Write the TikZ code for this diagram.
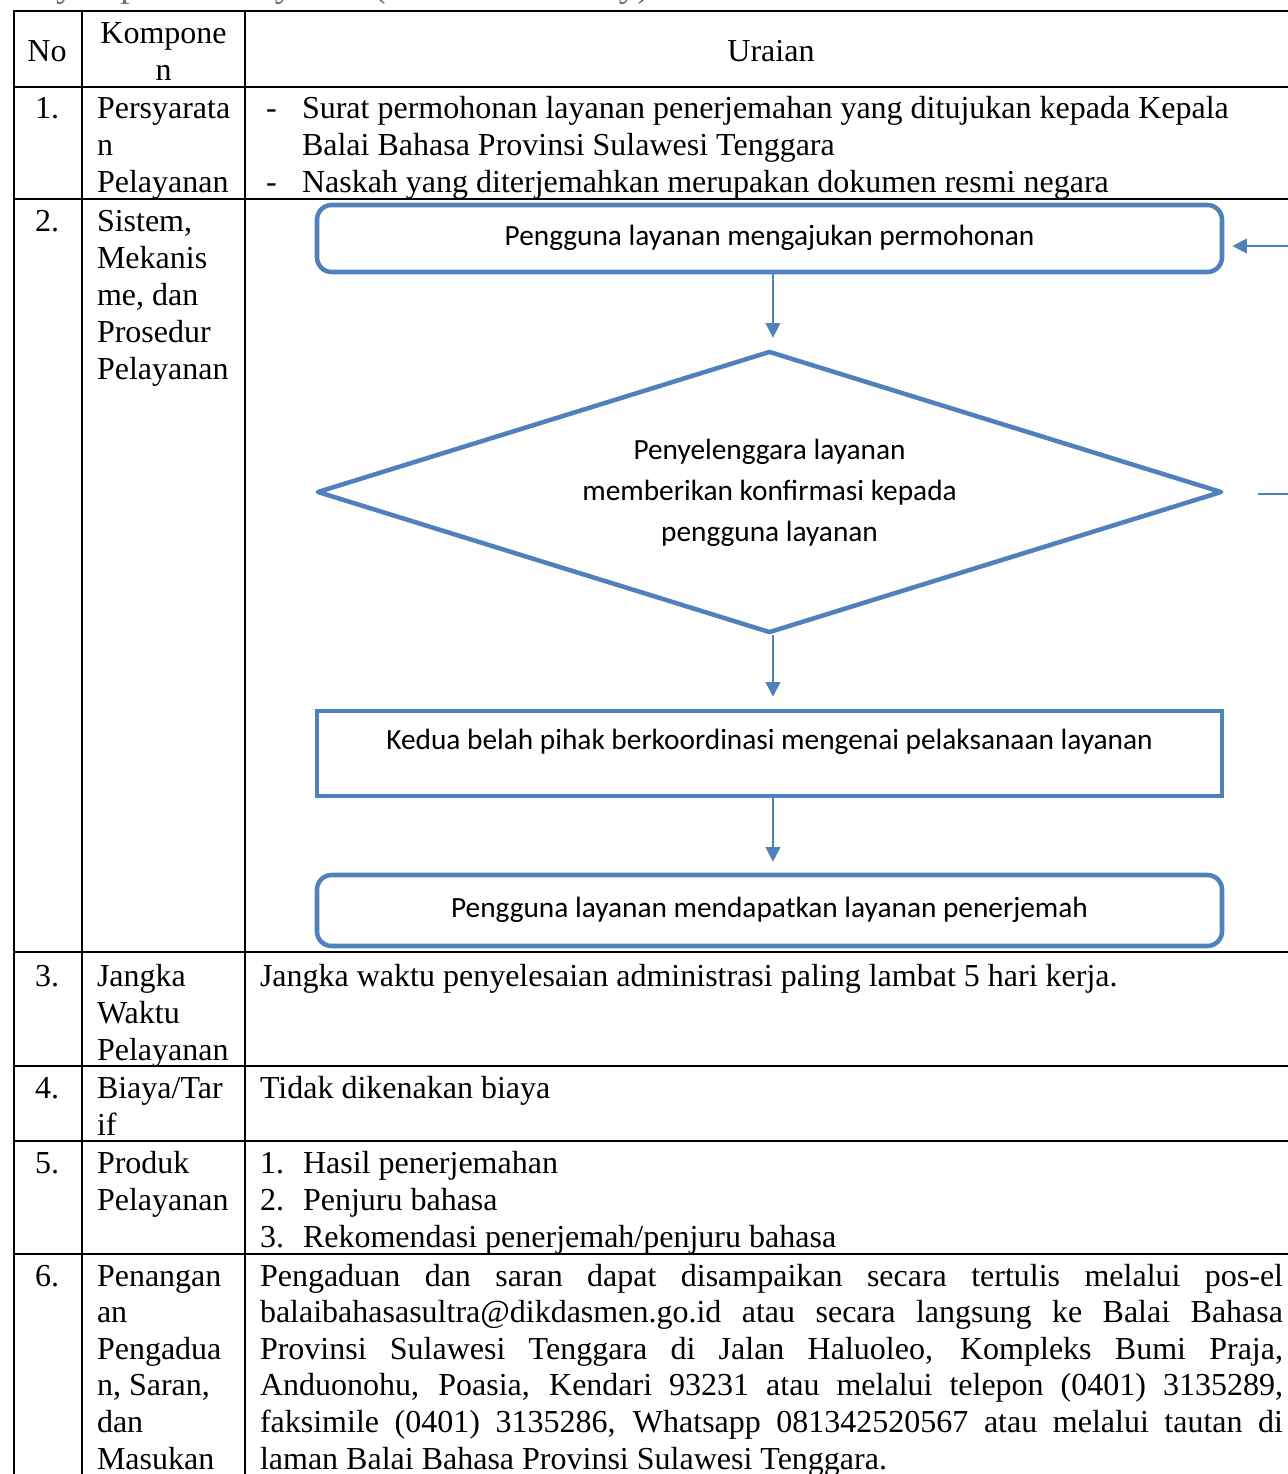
\documentclass[tikz,border=0pt]{standalone}
\usepackage{fontspec}
\setmainfont{Liberation Serif}
\newfontfamily\calibfont{Carlito}
\usetikzlibrary{shapes.geometric,arrows.meta}
\definecolor{flowblue}{RGB}{79,129,189}
\definecolor{capgray}{RGB}{110,110,110}
\newcommand\ctrline[1]{\hbox to 0pt{\hss #1\hss}}
\newcommand\cellstack[2][27.75pt]{\vtop{\baselineskip=#1\lineskiplimit=-20pt\lineskip=0pt #2}}
\newcommand\jline[1]{\hbox to 767.25pt{#1}}
\begin{document}
\begin{tikzpicture}[x=0.75pt,y=-0.75pt,
  tline/.style={line width=1.5pt,black,line cap=rect},
  txt/.style={anchor=base west,inner sep=0pt,outer sep=0pt,font=\fontsize{24}{27.75}\selectfont},
  txtc/.style={txt,anchor=base},
  procbox/.style={draw=flowblue,line width=3.4pt,minimum width=678.75pt,inner sep=0pt,text height=16pt,text depth=6pt,font=\calibfont\fontsize{22}{30.75}\selectfont},
  roundbox/.style={procbox,rounded corners=11pt},
  decision/.style={diamond,aspect=3.21,draw=flowblue,line width=3.4pt,line join=round,minimum width=678.75pt,minimum height=211.5pt,inner sep=0pt,align=center,font=\calibfont\fontsize{22}{30.75}\selectfont},
  flowline/.style={draw=flowblue,line width=1.5pt},
  flow/.style={flowline,-{Triangle[width=11pt,length=11pt]}},
]
\useasboundingbox (0,0) rectangle (1288,1474);
% caption above the table, cut off by the page edge as in the source
\node[txt,text=capgray,font=\fontsize{28}{32}\selectfont] (cap) at (0,-3) {Penyampaian Pelayanan (Service Delivery)};
% table rules
\draw[tline] (14,11) -- (1300,11);
\foreach \yy in {87,199,952,1066,1141,1254} \draw[tline] (14,\yy) -- (1300,\yy);
\foreach \xx in {14,82,245} \draw[tline] (\xx,11) -- (\xx,1480);
% header
\node[txtc] (hno) at (47,61) {No};
\node[txtc] (hkomp) at (163.5,43) {\cellstack{\ctrline{Kompone}\ctrline{n}}};
\node[txtc] (hur) at (771,61) {Uraian};
% row 1
\node[txtc] (n1) at (47,118) {1.};
\node[txt] (k1) at (97,118) {\cellstack{\hbox{Persyarata}\hbox{n}\hbox{Pelayanan}}};
\node[txt] (d1) at (266,118) {\cellstack{\hbox{-}\hbox{}\hbox{-}}};
\node[txt] (u1) at (302,118) {\cellstack{\hbox{Surat permohonan layanan penerjemahan yang ditujukan kepada Kepala}\hbox{Balai Bahasa Provinsi Sulawesi Tenggara}\hbox{Naskah yang diterjemahkan merupakan dokumen resmi negara}}};
% row 2
\node[txtc] (n2) at (47,231) {2.};
\node[txt] (k2) at (97,231) {\cellstack{\hbox{Sistem,}\hbox{Mekanis}\hbox{me, dan}\hbox{Prosedur}\hbox{Pelayanan}}};
% flowchart
\node[roundbox,minimum height=50.25pt] (f1) at (769.5,238.5) {Pengguna layanan mengajukan permohonan};
\node[decision] (f2) at (769.5,492) {\raisebox{-3pt}{\begin{tabular}{@{}c@{}}Penyelenggara layanan\\memberikan konfirmasi kepada\\pengguna layanan\end{tabular}}};
\node[procbox,minimum height=63.75pt,text depth=22.75pt] (f3) at (769.5,753.5) {Kedua belah pihak berkoordinasi mengenai pelaksanaan layanan};
\node[roundbox,minimum height=53.25pt] (f4) at (769.5,910.5) {Pengguna layanan mendapatkan layanan penerjemah};
\draw[flow,shorten >=8.25pt] ([xshift=2.6pt]f1.south) -- ([xshift=2.6pt]f2.north);
\draw[flow,shorten >=9pt] ([xshift=2.6pt]f2.south) -- ([xshift=2.6pt]f3.north);
\draw[flow,shorten >=8.25pt] ([xshift=2.6pt]f3.south) -- ([xshift=2.6pt]f4.north);
\coordinate (loopin) at (1300,246);
\coordinate (loopout) at (1300,494);
\draw[flow,shorten >=6pt] (loopin) -- (f1.east |- loopin);
\draw[flowline,shorten <=25.5pt] (f2.east |- loopout) -- (loopout);
% row 3
\node[txtc] (n3) at (47,986) {3.};
\node[txt] (k3) at (97,986) {\cellstack{\hbox{Jangka}\hbox{Waktu}\hbox{Pelayanan}}};
\node[txt] (u3) at (260,986) {Jangka waktu penyelesaian administrasi paling lambat 5 hari kerja.};
% row 4
\node[txtc] (n4) at (47,1098) {4.};
\node[txt] (k4) at (97,1098) {\cellstack{\hbox{Biaya/Tar}\hbox{if}}};
\node[txt] (u4) at (260,1098) {Tidak dikenakan biaya};
% row 5
\node[txtc] (n5) at (47,1173) {5.};
\node[txt] (k5) at (97,1173) {\cellstack{\hbox{Produk}\hbox{Pelayanan}}};
\node[txt] (u5n) at (260,1173) {\cellstack{\hbox{1.}\hbox{2.}\hbox{3.}}};
\node[txt] (u5) at (303,1173) {\cellstack{\hbox{Hasil penerjemahan}\hbox{Penjuru bahasa}\hbox{Rekomendasi penerjemah/penjuru bahasa}}};
% row 6
\node[txtc] (n6) at (47,1286) {6.};
\node[txt] (k6) at (97,1286) {\cellstack[27.45pt]{\hbox{Penangan}\hbox{an}\hbox{Pengadua}\hbox{n, Saran,}\hbox{dan}\hbox{Masukan}}};
\node[txt] (u6) at (260,1286) {\cellstack[27.45pt]{%
\jline{Pengaduan dan saran dapat disampaikan secara tertulis melalui pos-el}%
\jline{balaibahasasultra@dikdasmen.go.id atau secara langsung ke Balai Bahasa}%
\jline{Provinsi Sulawesi Tenggara di Jalan Haluoleo, Kompleks Bumi Praja,}%
\jline{Anduonohu, Poasia, Kendari 93231 atau melalui telepon (0401) 3135289,}%
\jline{faksimile (0401) 3135286, Whatsapp 081342520567 atau melalui tautan di}%
\hbox{laman Balai Bahasa Provinsi Sulawesi Tenggara.}}};
\end{tikzpicture}
\end{document}
